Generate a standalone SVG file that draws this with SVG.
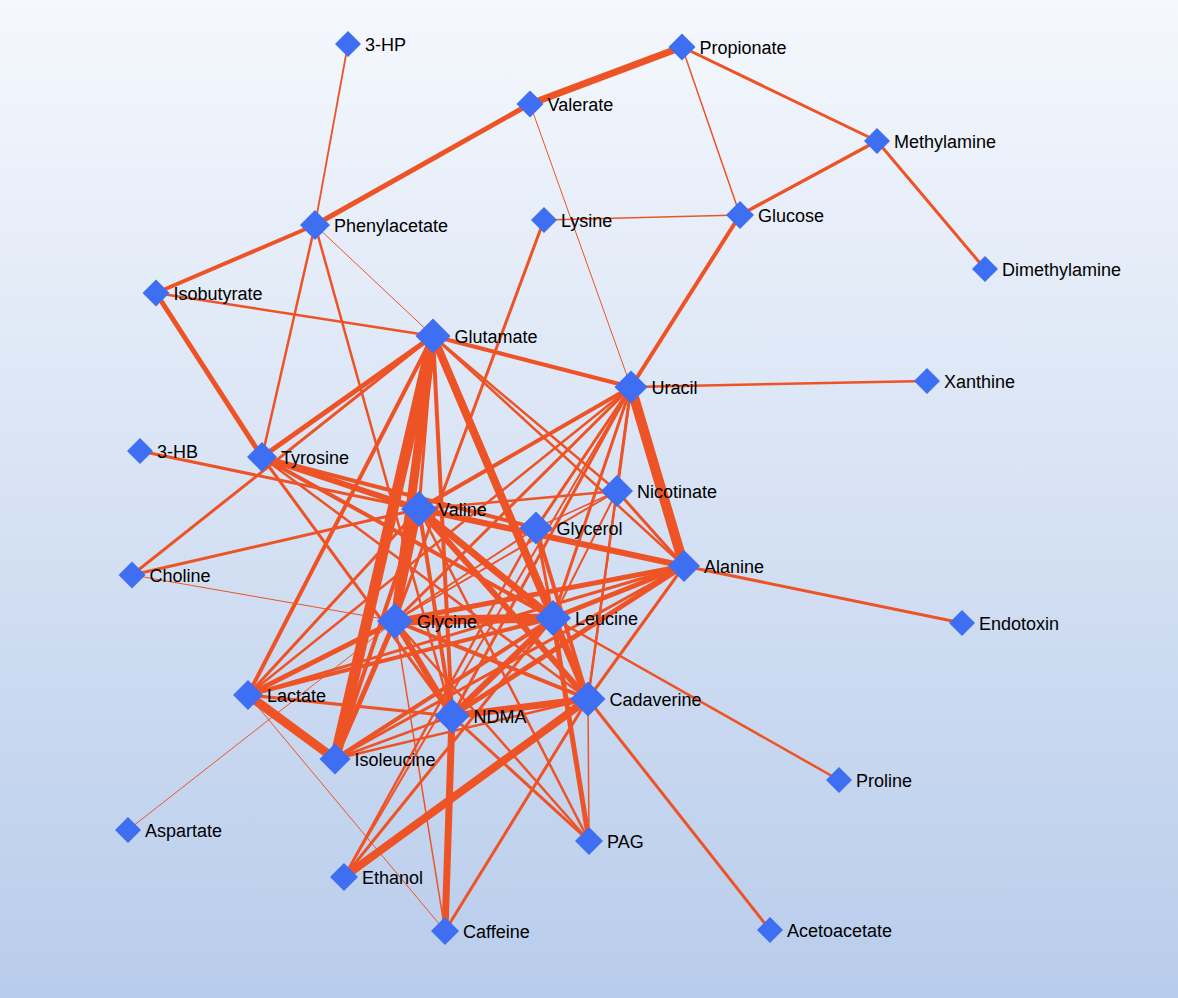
<svg xmlns="http://www.w3.org/2000/svg" width="1178" height="998" viewBox="0 0 1178 998">
<defs>
<linearGradient id="bg" x1="0" y1="0" x2="0" y2="1">
<stop offset="0" stop-color="#f5f8fd"/>
<stop offset="1" stop-color="#b8cceb"/>
</linearGradient>
</defs>
<style>
.e line{stroke:#ee5326;fill:none}
.n polygon{fill:#3e6ef2}
.n text{font-family:"Liberation Sans",Arial,Helvetica,sans-serif;font-size:18px;fill:#000}
</style>
<rect x="0" y="0" width="1178" height="998" fill="url(#bg)"/>
<g id="connectors" class="e">
<line x1="348" y1="44" x2="315" y2="225" stroke-width="1.8"/>
<line x1="682" y1="47" x2="530" y2="104" stroke-width="7"/>
<line x1="530" y1="104" x2="315" y2="225" stroke-width="5"/>
<line x1="682" y1="47" x2="877" y2="141" stroke-width="3"/>
<line x1="682" y1="47" x2="740" y2="215" stroke-width="1.5"/>
<line x1="877" y1="141" x2="740" y2="215" stroke-width="3.5"/>
<line x1="877" y1="141" x2="985" y2="269" stroke-width="3"/>
<line x1="530" y1="104" x2="631" y2="387" stroke-width="1"/>
<line x1="544" y1="220" x2="740" y2="215" stroke-width="1.5"/>
<line x1="544" y1="220" x2="395" y2="621" stroke-width="3"/>
<line x1="740" y1="215" x2="631" y2="387" stroke-width="4"/>
<line x1="156" y1="293" x2="315" y2="225" stroke-width="4"/>
<line x1="156" y1="293" x2="433" y2="336" stroke-width="2.5"/>
<line x1="156" y1="293" x2="262" y2="457" stroke-width="5"/>
<line x1="315" y1="225" x2="262" y2="457" stroke-width="2.5"/>
<line x1="315" y1="225" x2="433" y2="336" stroke-width="1"/>
<line x1="315" y1="225" x2="452" y2="716" stroke-width="2.5"/>
<line x1="433" y1="336" x2="631" y2="387" stroke-width="4"/>
<line x1="631" y1="387" x2="927" y2="381" stroke-width="2.5"/>
<line x1="684" y1="566" x2="962" y2="623" stroke-width="3"/>
<line x1="433" y1="336" x2="262" y2="457" stroke-width="5"/>
<line x1="433" y1="336" x2="132" y2="575" stroke-width="3"/>
<line x1="132" y1="575" x2="419" y2="509" stroke-width="3"/>
<line x1="132" y1="575" x2="395" y2="621" stroke-width="1"/>
<line x1="140" y1="451" x2="419" y2="509" stroke-width="3"/>
<line x1="262" y1="457" x2="419" y2="509" stroke-width="6"/>
<line x1="262" y1="457" x2="536" y2="528" stroke-width="4"/>
<line x1="262" y1="457" x2="553" y2="618" stroke-width="4"/>
<line x1="262" y1="457" x2="452" y2="716" stroke-width="3"/>
<line x1="262" y1="457" x2="588" y2="699" stroke-width="2.5"/>
<line x1="433" y1="336" x2="419" y2="509" stroke-width="3"/>
<line x1="433" y1="336" x2="395" y2="621" stroke-width="9"/>
<line x1="433" y1="336" x2="335" y2="759" stroke-width="11"/>
<line x1="433" y1="336" x2="553" y2="618" stroke-width="8"/>
<line x1="433" y1="336" x2="588" y2="699" stroke-width="7"/>
<line x1="433" y1="336" x2="617" y2="491" stroke-width="2.5"/>
<line x1="433" y1="336" x2="684" y2="566" stroke-width="2.5"/>
<line x1="433" y1="336" x2="248" y2="695" stroke-width="4"/>
<line x1="433" y1="336" x2="452" y2="716" stroke-width="4"/>
<line x1="631" y1="387" x2="684" y2="566" stroke-width="10"/>
<line x1="631" y1="387" x2="419" y2="509" stroke-width="4"/>
<line x1="631" y1="387" x2="617" y2="491" stroke-width="3"/>
<line x1="631" y1="387" x2="536" y2="528" stroke-width="3"/>
<line x1="631" y1="387" x2="553" y2="618" stroke-width="3"/>
<line x1="631" y1="387" x2="452" y2="716" stroke-width="3"/>
<line x1="631" y1="387" x2="588" y2="699" stroke-width="2.5"/>
<line x1="631" y1="387" x2="248" y2="695" stroke-width="2.5"/>
<line x1="631" y1="387" x2="395" y2="621" stroke-width="3"/>
<line x1="419" y1="509" x2="617" y2="491" stroke-width="2.5"/>
<line x1="419" y1="509" x2="684" y2="566" stroke-width="6"/>
<line x1="419" y1="509" x2="553" y2="618" stroke-width="7"/>
<line x1="419" y1="509" x2="588" y2="699" stroke-width="6"/>
<line x1="419" y1="509" x2="452" y2="716" stroke-width="4"/>
<line x1="419" y1="509" x2="335" y2="759" stroke-width="4"/>
<line x1="419" y1="509" x2="248" y2="695" stroke-width="3"/>
<line x1="419" y1="509" x2="589" y2="841" stroke-width="2.5"/>
<line x1="419" y1="509" x2="395" y2="621" stroke-width="6"/>
<line x1="395" y1="621" x2="553" y2="618" stroke-width="9"/>
<line x1="395" y1="621" x2="684" y2="566" stroke-width="5"/>
<line x1="395" y1="621" x2="452" y2="716" stroke-width="6"/>
<line x1="395" y1="621" x2="588" y2="699" stroke-width="4"/>
<line x1="395" y1="621" x2="248" y2="695" stroke-width="5"/>
<line x1="395" y1="621" x2="335" y2="759" stroke-width="5"/>
<line x1="395" y1="621" x2="589" y2="841" stroke-width="2.5"/>
<line x1="395" y1="621" x2="445" y2="931" stroke-width="1.5"/>
<line x1="395" y1="621" x2="617" y2="491" stroke-width="2"/>
<line x1="395" y1="621" x2="128" y2="830" stroke-width="1"/>
<line x1="553" y1="618" x2="684" y2="566" stroke-width="5"/>
<line x1="553" y1="618" x2="588" y2="699" stroke-width="6"/>
<line x1="553" y1="618" x2="452" y2="716" stroke-width="6"/>
<line x1="553" y1="618" x2="248" y2="695" stroke-width="4"/>
<line x1="553" y1="618" x2="335" y2="759" stroke-width="4"/>
<line x1="553" y1="618" x2="589" y2="841" stroke-width="5"/>
<line x1="553" y1="618" x2="839" y2="780" stroke-width="2.5"/>
<line x1="553" y1="618" x2="617" y2="491" stroke-width="2"/>
<line x1="553" y1="618" x2="536" y2="528" stroke-width="3"/>
<line x1="553" y1="618" x2="344" y2="877" stroke-width="3"/>
<line x1="588" y1="699" x2="452" y2="716" stroke-width="7"/>
<line x1="588" y1="699" x2="344" y2="877" stroke-width="8"/>
<line x1="588" y1="699" x2="770" y2="930" stroke-width="3"/>
<line x1="588" y1="699" x2="589" y2="841" stroke-width="1.5"/>
<line x1="588" y1="699" x2="684" y2="566" stroke-width="3"/>
<line x1="588" y1="699" x2="445" y2="931" stroke-width="3"/>
<line x1="588" y1="699" x2="335" y2="759" stroke-width="2.5"/>
<line x1="588" y1="699" x2="617" y2="491" stroke-width="2"/>
<line x1="452" y1="716" x2="445" y2="931" stroke-width="7"/>
<line x1="452" y1="716" x2="335" y2="759" stroke-width="2.5"/>
<line x1="452" y1="716" x2="248" y2="695" stroke-width="3"/>
<line x1="452" y1="716" x2="589" y2="841" stroke-width="3"/>
<line x1="452" y1="716" x2="684" y2="566" stroke-width="5"/>
<line x1="248" y1="695" x2="335" y2="759" stroke-width="9"/>
<line x1="248" y1="695" x2="445" y2="931" stroke-width="1"/>
<line x1="248" y1="695" x2="684" y2="566" stroke-width="3"/>
<line x1="335" y1="759" x2="684" y2="566" stroke-width="3"/>
<line x1="536" y1="528" x2="588" y2="699" stroke-width="4"/>
<line x1="536" y1="528" x2="344" y2="877" stroke-width="2.5"/>
<line x1="536" y1="528" x2="617" y2="491" stroke-width="1.5"/>
<line x1="536" y1="528" x2="395" y2="621" stroke-width="2"/>
<line x1="344" y1="877" x2="631" y2="387" stroke-width="2"/>
<line x1="617" y1="491" x2="684" y2="566" stroke-width="3"/>
</g>
<g id="n-3HP" class="n"><polygon points="348,31 361,44 348,57 335,44"/><text x="365" y="50.5">3-HP</text></g>
<g id="n-Propionate" class="n"><polygon points="682,33.5 695.5,47 682,60.5 668.5,47"/><text x="699.5" y="53.5">Propionate</text></g>
<g id="n-Valerate" class="n"><polygon points="530,90.5 543.5,104 530,117.5 516.5,104"/><text x="547.5" y="110.5">Valerate</text></g>
<g id="n-Methylamine" class="n"><polygon points="877,128 890,141 877,154 864,141"/><text x="894" y="147.5">Methylamine</text></g>
<g id="n-Phenylacetate" class="n"><polygon points="315,210 330,225 315,240 300,225"/><text x="334" y="231.5">Phenylacetate</text></g>
<g id="n-Lysine" class="n"><polygon points="544,207 557,220 544,233 531,220"/><text x="561" y="226.5">Lysine</text></g>
<g id="n-Glucose" class="n"><polygon points="740,201 754,215 740,229 726,215"/><text x="758" y="221.5">Glucose</text></g>
<g id="n-Dimethylamine" class="n"><polygon points="985,256 998,269 985,282 972,269"/><text x="1002" y="275.5">Dimethylamine</text></g>
<g id="n-Isobutyrate" class="n"><polygon points="156,279.5 169.5,293 156,306.5 142.5,293"/><text x="173.5" y="299.5">Isobutyrate</text></g>
<g id="n-Glutamate" class="n"><polygon points="433,318.5 450.5,336 433,353.5 415.5,336"/><text x="454.5" y="342.5">Glutamate</text></g>
<g id="n-Uracil" class="n"><polygon points="631,370.5 647.5,387 631,403.5 614.5,387"/><text x="651.5" y="393.5">Uracil</text></g>
<g id="n-Xanthine" class="n"><polygon points="927,368 940,381 927,394 914,381"/><text x="944" y="387.5">Xanthine</text></g>
<g id="n-3HB" class="n"><polygon points="140,438 153,451 140,464 127,451"/><text x="157" y="457.5">3-HB</text></g>
<g id="n-Tyrosine" class="n"><polygon points="262,442 277,457 262,472 247,457"/><text x="281" y="463.5">Tyrosine</text></g>
<g id="n-Nicotinate" class="n"><polygon points="617,475 633,491 617,507 601,491"/><text x="637" y="497.5">Nicotinate</text></g>
<g id="n-Valine" class="n"><polygon points="419,491 437,509 419,527 401,509"/><text x="438" y="515.5">Valine</text></g>
<g id="n-Glycerol" class="n"><polygon points="536,511.5 552.5,528 536,544.5 519.5,528"/><text x="556.5" y="534.5">Glycerol</text></g>
<g id="n-Alanine" class="n"><polygon points="684,550 700,566 684,582 668,566"/><text x="704" y="572.5">Alanine</text></g>
<g id="n-Choline" class="n"><polygon points="132,561.5 145.5,575 132,588.5 118.5,575"/><text x="149.5" y="581.5">Choline</text></g>
<g id="n-Glycine" class="n"><polygon points="395,603 413,621 395,639 377,621"/><text x="417" y="627.5">Glycine</text></g>
<g id="n-Leucine" class="n"><polygon points="553,600 571,618 553,636 535,618"/><text x="575" y="624.5">Leucine</text></g>
<g id="n-Endotoxin" class="n"><polygon points="962,610 975,623 962,636 949,623"/><text x="979" y="629.5">Endotoxin</text></g>
<g id="n-Lactate" class="n"><polygon points="248,680 263,695 248,710 233,695"/><text x="267" y="701.5">Lactate</text></g>
<g id="n-Cadaverine" class="n"><polygon points="588,681.5 605.5,699 588,716.5 570.5,699"/><text x="609.5" y="705.5">Cadaverine</text></g>
<g id="n-NDMA" class="n"><polygon points="452,698.5 469.5,716 452,733.5 434.5,716"/><text x="473.5" y="722.5">NDMA</text></g>
<g id="n-Isoleucine" class="n"><polygon points="335,743.5 350.5,759 335,774.5 319.5,759"/><text x="354.5" y="765.5">Isoleucine</text></g>
<g id="n-Proline" class="n"><polygon points="839,767 852,780 839,793 826,780"/><text x="856" y="786.5">Proline</text></g>
<g id="n-Aspartate" class="n"><polygon points="128,817 141,830 128,843 115,830"/><text x="145" y="836.5">Aspartate</text></g>
<g id="n-PAG" class="n"><polygon points="589,827 603,841 589,855 575,841"/><text x="607" y="847.5">PAG</text></g>
<g id="n-Ethanol" class="n"><polygon points="344,863 358,877 344,891 330,877"/><text x="362" y="883.5">Ethanol</text></g>
<g id="n-Caffeine" class="n"><polygon points="445,917 459,931 445,945 431,931"/><text x="463" y="937.5">Caffeine</text></g>
<g id="n-Acetoacetate" class="n"><polygon points="770,917 783,930 770,943 757,930"/><text x="787" y="936.5">Acetoacetate</text></g>
</svg>
